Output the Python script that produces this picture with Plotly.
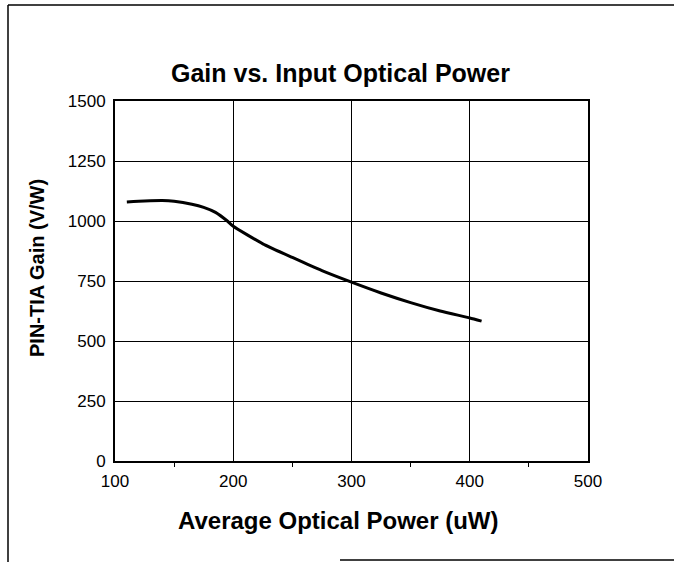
import plotly.graph_objects as go

# Data
power_uW = [110, 125, 140, 150, 165, 175, 185, 195, 200, 225, 250, 275, 300, 325, 350, 375, 400, 410]
gain_VW = [1079, 1083, 1085, 1082, 1070, 1057, 1036, 1000, 978, 905, 848, 793, 745, 700, 660, 625, 596, 583]

x_ticks = [100, 200, 300, 400, 500]
y_ticks = [0, 250, 500, 750, 1000, 1250, 1500]

title_text = "Gain vs. Input Optical Power"
x_title = "Average Optical Power (uW)"
y_title = "PIN-TIA Gain (V/W)"

FONT = "Liberation Sans, Arial, Helvetica, sans-serif"

fig = go.Figure()
fig.add_trace(go.Scatter(
    x=power_uW, y=gain_VW, mode="lines",
    line=dict(color="black", width=3, shape="spline", smoothing=0.5),
    showlegend=False, hoverinfo="skip",
))

L, R, T, B = 115, 86, 101, 101
W, H = 674, 562
pw = W - L - R
ph = H - T - B


def px(x):
    return (x - L) / pw


def py(y):
    return (H - B - y) / ph


fig.update_layout(
    width=W, height=H,
    margin=dict(l=L, r=R, t=T, b=B, pad=0),
    paper_bgcolor="white", plot_bgcolor="white",
    font=dict(family=FONT, color="black", size=17),
    xaxis=dict(
        range=[100, 500], tickvals=x_ticks, ticktext=[str(v) for v in x_ticks],
        showgrid=True, gridcolor="black", gridwidth=1,
        showline=True, linecolor="black", linewidth=2, mirror=True,
        ticks="", zeroline=False, tickfont=dict(size=17), ticklabelstandoff=4,
        minor=dict(tickvals=[150, 250, 350, 450], ticks="outside", ticklen=4,
                   tickcolor="black", showgrid=False),
    ),
    yaxis=dict(
        range=[0, 1500], tickvals=y_ticks, ticktext=[str(v) for v in y_ticks],
        showgrid=True, gridcolor="black", gridwidth=1,
        showline=True, linecolor="black", linewidth=2, mirror=True,
        ticks="", zeroline=False, tickfont=dict(size=17), ticklabelstandoff=4,
    ),
    annotations=[
        dict(text="<b>" + title_text + "</b>", xref="paper", yref="paper",
             x=px(340), y=py(73), xanchor="center", yanchor="middle",
             showarrow=False, font=dict(size=25, family=FONT)),
        dict(text="<b>" + x_title + "</b>", xref="paper", yref="paper",
             x=px(338), y=py(520), xanchor="center", yanchor="middle",
             showarrow=False, font=dict(size=24, family=FONT)),
        dict(text="<b>" + y_title + "</b>", xref="paper", yref="paper",
             x=px(37), y=py(268), xanchor="center", yanchor="middle",
             textangle=-90, showarrow=False, font=dict(size=20, family=FONT)),
    ],
    shapes=[
        dict(type="line", xref="paper", yref="paper", x0=px(8), x1=px(674),
             y0=py(5), y1=py(5), line=dict(color="black", width=1.5)),
        dict(type="line", xref="paper", yref="paper", x0=px(8), x1=px(8),
             y0=py(5), y1=py(562), line=dict(color="black", width=1.5)),
        dict(type="line", xref="paper", yref="paper", x0=px(340), x1=px(674),
             y0=py(560), y1=py(560), line=dict(color="black", width=1.5)),
    ],
)

fig.write_html("out.html", config={"displayModeBar": False},
               post_script="document.body.style.margin='0';")
